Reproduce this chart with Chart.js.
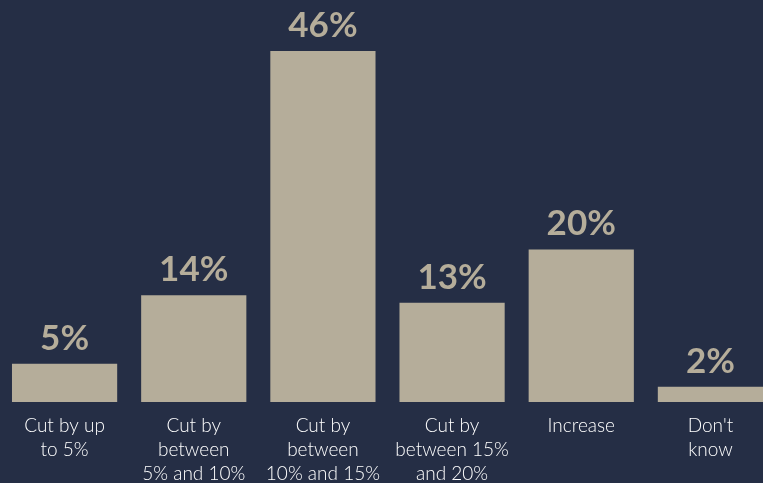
<!DOCTYPE html>
<html>
<head>
<meta charset="utf-8">
<script src="https://cdn.jsdelivr.net/npm/chart.js@4"></script>
<style>
  html, body { margin: 0; padding: 0; background: #252e45; overflow: hidden; }
  #wrap { width: 775px; height: 483px; }
</style>
</head>
<body>
<div id="wrap"><canvas id="chart"></canvas></div>
<script>
// categories as multi-line tick labels
const categories = [
  ['Cut by up', 'to 5%'],
  ['Cut by', 'between', '5% and 10%'],
  ['Cut by', 'between', '10% and 15%'],
  ['Cut by', 'between 15%', 'and 20%'],
  ['Increase'],
  ["Don't", 'know']
];
const shares = [5, 14, 46, 13, 20, 2];

const BAR = '#b5ad9a';

// value labels above bars
const valueLabels = {
  id: 'valueLabels',
  afterDatasetsDraw(chart) {
    const ctx = chart.ctx;
    const meta = chart.getDatasetMeta(0);
    ctx.save();
    ctx.fillStyle = BAR;
    ctx.font = 'bold 35px Lato';
    ctx.textAlign = 'center';
    ctx.textBaseline = 'alphabetic';
    meta.data.forEach((bar, i) => {
      ctx.fillText(shares[i] + '%', bar.x, bar.y - 14);
    });
    ctx.restore();
  }
};

new Chart(document.getElementById('chart'), {
  type: 'bar',
  data: {
    labels: categories,
    datasets: [{
      data: shares,
      backgroundColor: BAR,
      borderWidth: 0,
      barPercentage: 0.9,
      categoryPercentage: 0.905
    }]
  },
  options: {
    responsive: true,
    maintainAspectRatio: false,
    animation: false,
    layout: { padding: 0 },
    plugins: { legend: { display: false }, tooltip: { enabled: false } },
    scales: {
      x: {
        grid: { display: false, drawTicks: false },
        border: { display: false },
        ticks: {
          color: '#ffffff',
          padding: 12,
          maxRotation: 0,
          autoSkip: false,
          font: { family: 'Lato', size: 19, weight: '300', lineHeight: 1.26 }
        },
        afterFit: (axis) => { axis.height = 81; }
      },
      y: {
        display: false,
        min: 0,
        max: 52.7
      }
    }
  },
  plugins: [valueLabels]
});
</script>
</body>
</html>
